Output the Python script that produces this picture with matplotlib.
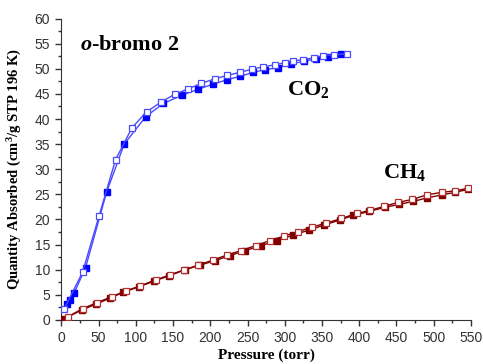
import matplotlib.pyplot as plt
from matplotlib.ticker import MultipleLocator

# CO2 adsorption (filled) / desorption (open)
co2_ads_p = [7.8, 11.4, 17.2, 32.5, 60.7, 84.4, 113.5, 137, 161.5, 183, 203, 222, 240,
             258, 273, 291, 309, 326, 341.5, 357.5, 376]
co2_ads_q = [3.2, 3.9, 5.35, 10.4, 25.4, 35.0, 40.5, 43.1, 44.7, 45.9, 46.9, 47.8, 48.5,
             49.3, 49.8, 50.2, 51.0, 51.5, 52.0, 52.4, 52.9]
co2_des_p = [383, 366, 352, 339, 325, 311, 300, 287, 271, 255.5, 240, 223, 206, 188,
             170, 152, 134, 114.4, 95, 72.8, 50.4, 28.5, 3.8]
co2_des_q = [53.0, 52.8, 52.6, 52.2, 51.8, 51.6, 51.2, 50.8, 50.4, 49.9, 49.3, 48.7, 48.0, 47.1,
             46.0, 44.9, 43.4, 41.4, 38.3, 31.9, 20.6, 9.5, 2.2]

# CH4 adsorption (filled) / desorption (open)
ch4_ads_p = [1.6, 28, 47, 65, 83, 104, 124, 145, 166, 186, 206, 226, 247, 268, 290, 311,
             333, 353, 374, 392, 413, 434, 453, 472.5, 491, 511, 529, 546]
ch4_ads_q = [0.1, 2.0, 3.2, 4.3, 5.5, 6.6, 7.7, 8.8, 10.0, 10.9, 11.8, 12.8, 13.8, 14.8, 15.8, 16.9,
             17.9, 18.9, 19.9, 20.8, 21.6, 22.4, 23.0, 23.6, 24.3, 24.9, 25.4, 26.0]
ch4_des_p = [546, 528.5, 510.7, 490.5, 471.5, 452, 433, 414, 396.5, 376, 356, 337, 318, 299,
             280, 261, 241, 222, 203, 183.8, 164.5, 145.7, 126.5, 106, 87, 67.8, 48, 28.5, 9.2]
ch4_des_q = [26.2, 25.7, 25.4, 24.9, 24.0, 23.4, 22.6, 21.8, 21.2, 20.2, 19.3, 18.5, 17.6, 16.7,
             15.8, 14.8, 13.8, 12.9, 11.9, 10.9, 9.96, 8.96, 7.97, 6.8, 5.8, 4.65, 3.45, 2.25, 0.66]

blue = '#0000ff'
blue_line = '#4a4aff'
red = '#800000'
red_edge = '#b03030'

serif = 'Liberation Serif'
plt.rcParams['mathtext.fontset'] = 'custom'
plt.rcParams['mathtext.rm'] = serif
plt.rcParams['mathtext.it'] = serif + ':italic:bold'
plt.rcParams['mathtext.bf'] = serif + ':bold'

fig = plt.figure(figsize=(4.83, 3.64), dpi=100)
ax = fig.add_axes([0.127, 0.121, 0.848, 0.828])

ax.plot(co2_ads_p, co2_ads_q, '-s', color=blue_line, lw=1.0, ms=5.0,
        mfc=blue, mec=blue, zorder=3)
ax.plot(co2_des_p, co2_des_q, '-s', color=blue_line, lw=1.0, ms=5.0,
        mfc='white', mec=blue_line, mew=0.9, zorder=4)
ax.plot(ch4_ads_p, ch4_ads_q, '-s', color=red, lw=1.0, ms=4.0,
        mfc=red, mec=red, zorder=3)
ax.plot(ch4_des_p, ch4_des_q, '-s', color=red, lw=1.0, ms=5.0,
        mfc='white', mec=red_edge, mew=0.9, zorder=4)

ax.set_xlim(0, 550)
ax.set_ylim(0, 60)
ax.xaxis.set_major_locator(MultipleLocator(50))
ax.xaxis.set_minor_locator(MultipleLocator(25))
ax.yaxis.set_major_locator(MultipleLocator(5))
ax.yaxis.set_minor_locator(MultipleLocator(2.5))
ax.spines['top'].set_visible(False)
ax.spines['right'].set_visible(False)
ax.spines['left'].set_color('#333333')
ax.spines['bottom'].set_color('#333333')
ax.tick_params(which='major', direction='out', length=4.5, width=1, labelsize=10,
               color='#333333')
ax.tick_params(which='minor', direction='out', length=2.5, width=1, color='#333333')
for lab in ax.get_xticklabels() + ax.get_yticklabels():
    lab.set_family('Liberation Sans')
    lab.set_color('#333333')

ax.set_xlabel('Pressure (torr)', fontfamily=serif, fontweight='bold', fontsize=11)
ax.set_ylabel('Quantity Absorbed (cm$^\\mathbf{3}$/g STP 196 K)', fontfamily=serif,
              fontweight='bold', fontsize=10.5)
ax.xaxis.set_label_coords(0.5, -0.095)
ax.yaxis.set_label_coords(-0.092, 0.5)

ax.text(0.045, 0.895, r'$\mathit{o}$-bromo 2', transform=ax.transAxes,
        fontfamily=serif, fontweight='bold', fontsize=16, va='baseline')
ax.text(0.55, 0.745, r'CO$_\mathbf{2}$', transform=ax.transAxes,
        fontfamily=serif, fontweight='bold', fontsize=16, va='baseline')
ax.text(0.785, 0.47, r'CH$_\mathbf{4}$', transform=ax.transAxes,
        fontfamily=serif, fontweight='bold', fontsize=16, va='baseline')

fig.savefig('out.png', dpi=100)
